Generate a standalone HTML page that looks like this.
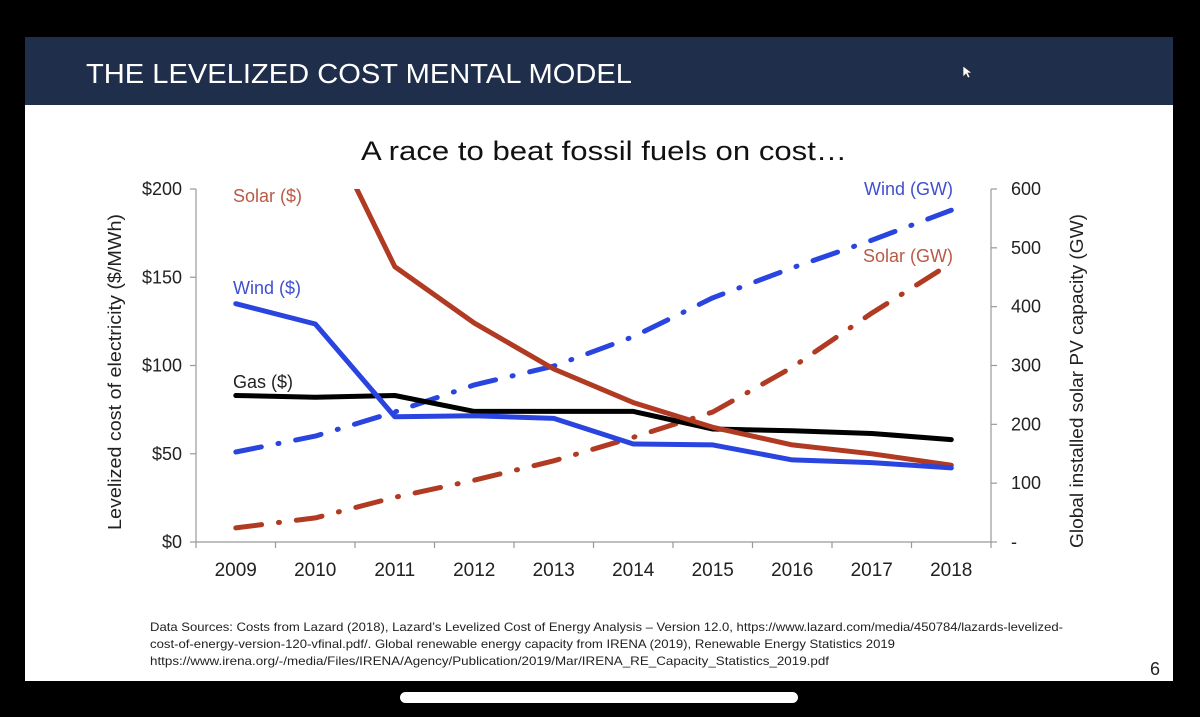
<!DOCTYPE html>
<html><head><meta charset="utf-8"><style>
html,body{margin:0;padding:0;background:#000;width:1200px;height:717px;overflow:hidden}
svg{display:block}
text{font-family:"Liberation Sans",sans-serif}
</style></head><body>
<svg width="1200" height="717" viewBox="0 0 1200 717">
<rect x="25" y="37" width="1148" height="644" fill="#fff"/>
<rect x="25" y="37" width="1148" height="68" fill="#1f2e4b"/>
<text x="86" y="83" font-size="28" fill="#fff" textLength="546" lengthAdjust="spacingAndGlyphs">THE LEVELIZED COST MENTAL MODEL</text>
<path d="M963 66 l0 11 l3 -3 l2 4 l2 -1 l-2 -4 l4 0 z" fill="#fff" stroke="#333" stroke-width="0.7"/>
<text x="604" y="160" font-size="27" fill="#111" text-anchor="middle" textLength="486" lengthAdjust="spacingAndGlyphs">A race to beat fossil fuels on cost…</text>
<g id="chart"></g>
<g font-size="12" fill="#222">
<text x="150" y="631" textLength="913" lengthAdjust="spacingAndGlyphs">Data Sources: Costs from Lazard (2018), Lazard’s Levelized Cost of Energy Analysis – Version 12.0, https://www.lazard.com/media/450784/lazards-levelized-</text>
<text x="150" y="648" textLength="745" lengthAdjust="spacingAndGlyphs">cost-of-energy-version-120-vfinal.pdf/. Global renewable energy capacity from IRENA (2019), Renewable Energy Statistics 2019</text>
<text x="150" y="665" textLength="679" lengthAdjust="spacingAndGlyphs">https://www.irena.org/-/media/Files/IRENA/Agency/Publication/2019/Mar/IRENA_RE_Capacity_Statistics_2019.pdf</text>
</g>
<text x="1150" y="675" font-size="18" fill="#222">6</text>
<rect x="400" y="692" width="398" height="11" rx="5.5" fill="#fff"/>
</svg>
<script>
const years=[2009,2010,2011,2012,2013,2014,2015,2016,2017,2018];
const windCost=[135,123.5,71,71.5,70,55.5,55,46.5,45,42];
const gasCost=[83,82,83,74,74,74,64,63,61.5,58];
const solarCost=[248,248,156,124,98,79,65,55,50,43.5];
const windGW=[153,180,221,267,299,349,415,466,513,564];
const solarGW=[24,41,76,105,138,178,221,297,389,474];
const leftTicks=[0,50,100,150,200];
const leftTickLabels=["$0","$50","$100","$150","$200"];
const rightTicks=[0,100,200,300,400,500,600];
const rightTickLabels=["-","100","200","300","400","500","600"];

const NS="http://www.w3.org/2000/svg";
const g=document.getElementById('chart');
const X0=196,X1=991,Y0=542,Y1=189;
const bw=(X1-X0)/years.length;
const xs=i=>X0+bw*(i+0.5);
const yL=v=>Y0-(v/200)*(Y0-Y1);
const yR=v=>Y0-(v/600)*(Y0-Y1);
function mk(t,a,p){const e=document.createElementNS(NS,t);for(const k in a)e.setAttribute(k,a[k]);(p||g).appendChild(e);return e;}
const defs=mk('defs',{});const cp=mk('clipPath',{id:'clip'},defs);mk('rect',{x:X0,y:Y1,width:X1-X0,height:Y0-Y1},cp);

let e=mk('line',{x1:X0,y1:Y1,x2:X0,y2:Y0,stroke:'#999','stroke-width':1.2});


e=mk('line',{x1:X1,y1:Y1,x2:X1,y2:Y0,stroke:'#999','stroke-width':1.2});


e=mk('line',{x1:X0,y1:Y0,x2:X1,y2:Y0,stroke:'#999','stroke-width':1.2});


for(let i=0;i<=years.length;i++){mk('line',{x1:X0+bw*i,y1:Y0,x2:X0+bw*i,y2:Y0+6,stroke:'#999','stroke-width':1.2});}
years.forEach((yv,i)=>{const t=mk('text',{x:xs(i),y:576,'font-size':19,fill:'#222','text-anchor':'middle'});t.textContent=yv;

});
leftTicks.forEach((v,i)=>{mk('line',{x1:X0-6,y1:yL(v),x2:X0,y2:yL(v),stroke:'#999','stroke-width':1.2});
const t=mk('text',{x:X0-14,y:yL(v)+6,'font-size':18,fill:'#222','text-anchor':'end'});t.textContent=leftTickLabels[i];

});
rightTicks.forEach((v,i)=>{mk('line',{x1:X1,y1:yR(v),x2:X1+6,y2:yR(v),stroke:'#999','stroke-width':1.2});
const t=mk('text',{x:X1+20,y:yR(v)+6,'font-size':18,fill:'#222'});t.textContent=rightTickLabels[i];

});
let t=mk('text',{transform:'translate(121,372) rotate(-90)','font-size':18,fill:'#222','text-anchor':'middle',textLength:316,lengthAdjust:'spacingAndGlyphs'});t.textContent='Levelized cost of electricity ($/MWh)';


t=mk('text',{transform:'translate(1083,381) rotate(-90)','font-size':18,fill:'#222','text-anchor':'middle',textLength:334,lengthAdjust:'spacingAndGlyphs'});t.textContent='Global installed solar PV capacity (GW)';



function line(vals,yf,color,dash,name,start){
 const pts=[];vals.forEach((v,i)=>{if(i>=start)pts.push(xs(i).toFixed(1)+','+yf(v).toFixed(1));});
 const a={points:pts.join(' '),fill:'none',stroke:color,'stroke-width':5,'stroke-linejoin':'round','stroke-linecap':'round','clip-path':'url(#clip)'};
 if(dash)a['stroke-dasharray']=dash;
 const p=mk('polyline',a);
 
 
}
line(solarGW,yR,'#b03a22','26 17 1 17','solar-gw-line',0);
line(windGW,yR,'#2a44e0','26 17 1 17','wind-gw-line',0);
line(gasCost,yL,'#000',null,'gas-cost-line',0);
line(solarCost,yL,'#b03a22',null,'solar-cost-line',1);
line(windCost,yL,'#2a44e0',null,'wind-cost-line',0);

function lab(x,y,s,c,n,anchor){const t=mk('text',{x:x,y:y,'font-size':18,fill:c,'text-anchor':anchor||'start'});t.textContent=s;

}
lab(233,202,'Solar ($)','#b85a45','solar-cost-label');
lab(233,294,'Wind ($)','#3f4fd0','wind-cost-label');
lab(233,388,'Gas ($)','#222','gas-cost-label');
lab(953,195,'Wind (GW)','#3f4fd0','wind-gw-label','end');
lab(953,262,'Solar (GW)','#b85a45','solar-gw-label','end');
</script>
</body></html>
